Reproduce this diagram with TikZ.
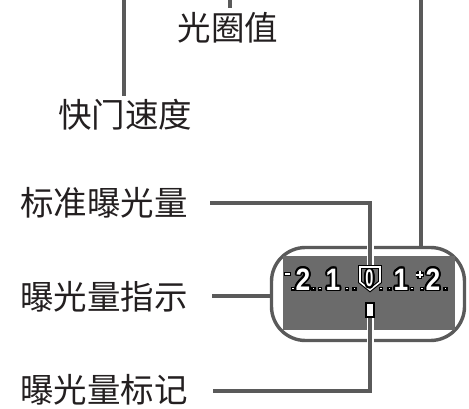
\documentclass[tikz,border=0pt]{standalone}
\usepackage{fontspec}
\usepackage{graphicx}
\newfontfamily\cjk{Noto Sans CJK SC}
\newfontfamily\digf{Liberation Sans}
\definecolor{lc}{HTML}{5A5A5A}
\definecolor{scr}{HTML}{6B6B6B}
\definecolor{tx}{HTML}{231F20}
\newcommand\otx[1]{\leavevmode\hbox{%
  \foreach \dx/\dy in {1.8/0,-1.8/0,0/1.8,0/-1.8,1.3/1.3,-1.3/1.3,1.3/-1.3,-1.3/-1.3,1.7/0.7,-1.7/0.7,1.7/-0.7,-1.7/-0.7,0.7/1.7,-0.7/1.7,0.7/-1.7,-0.7/-1.7}{%
    \rlap{\kern\dx pt\raisebox{\dy pt}{\color{black}#1}}}%
  {\color{white}#1}}}
\begin{document}
\begin{tikzpicture}[x=1pt,y=-1pt,
  lbl/.style={font=\cjk\fontsize{33.5}{40}\selectfont, text=tx, inner sep=0pt},
  ln/.style={draw=lc, line width=3.2pt},
  halo/.style={draw=white, line width=7pt},
  dig/.style={font=\digf\bfseries\fontsize{31}{34}\selectfont, inner sep=0pt, anchor=base},
  tick/.style={draw=black, fill=white, line width=1.5pt}]
\useasboundingbox (0,0) rectangle (469,409);
% labels
\node[lbl] (ap)  at (228,28)  {光圈值};
\node[lbl] (sh)  at (125,115) {快门速度};
\node[lbl] (std) at (104,203) {标准曝光量};
\node[lbl] (ind) at (104,297) {曝光量指示};
\node[lbl] (mk)  at (104,390) {曝光量标记};
% display
\node (pill) [draw=lc, line width=3.4pt, rounded corners=34pt, minimum width=193pt,
  minimum height=93pt, inner sep=0pt] at (368,294) {};
\node (scrn) [fill=scr, minimum width=172pt, minimum height=74pt, inner sep=0pt] at (369,293) {};
% coordinates
\coordinate (apT) at (230,0);
\coordinate (apB) at (230,8);
\coordinate (shT) at (124,0);
\coordinate (shB) at (124,96);
\coordinate (rT)  at (421,0);
\coordinate (stdS) at (210,203);
\coordinate (stdK) at (370,203);
\coordinate (pent) at (370,267);
\coordinate (indS) at (212,296);
\coordinate (mkS) at (213,391);
\coordinate (mkK) at (370,391);
\coordinate (hT) at (370,238);
\coordinate (hB) at (370,350);
\node (mark) [draw=black, fill=white, line width=2pt, minimum width=8pt, minimum height=14pt,
  inner sep=0pt] at (370,310) {};
% connectors
\draw[ln] (apT) -- (apB);
\draw[ln] (shT) -- (shB);
\draw[ln] (rT) -- (rT |- pill.north);
\draw[ln] (indS) -- (indS -| pill.west);
\draw[halo] (hT) -- (pent);
\draw[halo] (mark.south) -- (hB);
\draw[ln] (stdS) -- (stdK) -- (pent);
\draw[ln] (mkS) -- (mkK) -- (mark.south);
\node (mark2) [draw=black, fill=white, line width=2pt, minimum width=8pt, minimum height=14pt,
  inner sep=0pt] at (370,310) {};
% pentagon
\path[fill=scr] (360,267) -- (380,267) -- (380,282) -- (370,290) -- (360,282) -- cycle;
\draw[black, line width=3.8pt, line join=miter] (360,267) -- (380,267) -- (380,282) -- (370,290) -- (360,282) -- cycle;
\draw[white, line width=1.6pt, line join=miter] (360,267) -- (380,267) -- (380,282) -- (370,290) -- (360,282) -- cycle;
\node[dig, font=\digf\bfseries\fontsize{24}{26}\selectfont] (z) at (369.5,287) {\otx{\scalebox{0.6}[1]{0}}};
% digits
\node[dig] (m2) at (303,290) {\otx{\scalebox{0.85}[1]{2}}};
\node[dig] (m1) at (333,290) {\otx{\scalebox{0.85}[1]{1}}};
\node[dig] (p1) at (401,290) {\otx{\scalebox{0.85}[1]{1}}};
\node[dig] (p2) at (433,290) {\otx{\scalebox{0.85}[1]{2}}};
% ticks
\foreach \x in {293,313.5,320,347,354.5,381,389.5,412,422,445.5}
  \draw[tick] (\x-1.4,287.4) rectangle (\x+1.4,290.2);
\draw[tick] (284.5,272.6) rectangle (290.5,275.4);
\draw[black, line width=4.6pt] (415.5,274.5) -- (423.5,274.5) (419.5,270.5) -- (419.5,278.5);
\draw[white, line width=2pt] (416.4,274.5) -- (422.6,274.5) (419.5,271.4) -- (419.5,277.6);
\end{tikzpicture}
\end{document}
